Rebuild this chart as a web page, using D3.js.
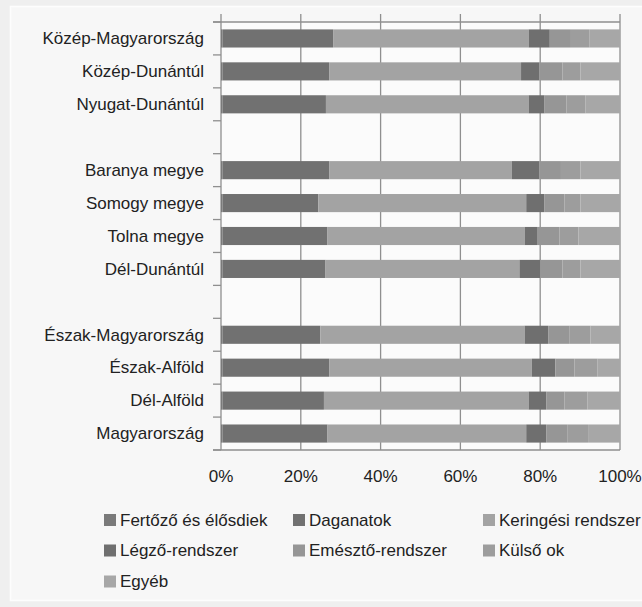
<!DOCTYPE html>
<html>
<head>
<meta charset="utf-8">
<script src="https://cdn.jsdelivr.net/npm/d3@7"></script>
<style>
  html, body { margin: 0; padding: 0; background: #efefef; }
  svg { display: block; }
  text { font-family: "Liberation Sans", Arial, sans-serif; fill: #222; }
</style>
</head>
<body>
<svg id="chart" width="642" height="607"></svg>
<script>
// Regions (empty strings are spacer rows between region groups)
const categories = [
  "Közép-Magyarország", "Közép-Dunántúl", "Nyugat-Dunántúl", "",
  "Baranya megye", "Somogy megye", "Tolna megye", "Dél-Dunántúl", "",
  "Észak-Magyarország", "Észak-Alföld", "Dél-Alföld", "Magyarország"
];

const seriesNames = [
  "Fertőző és élősdiek", "Daganatok", "Keringési rendszer",
  "Légző-rendszer", "Emésztő-rendszer", "Külső ok", "Egyéb"
];

// Share of deaths by cause, % (null = spacer row)
const fertozo   = [0.4, 0.4, 0.4, null, 0.4, 0.4, 0.4, 0.4, null, 0.4, 0.4, 0.4, 0.4];
const daganatok = [27.7, 26.7, 25.9, null, 26.7, 24.0, 26.3, 25.8, null, 24.5, 26.7, 25.4, 26.3];
const keringesi = [49.0, 48.1, 50.8, null, 45.8, 52.1, 49.4, 48.6, null, 51.2, 50.8, 51.3, 49.8];
const legzo     = [5.3, 4.6, 4.0, null, 6.9, 4.5, 3.1, 5.2, null, 5.9, 5.9, 4.4, 5.0];
const emeszto   = [5.3, 5.8, 5.5, null, 5.4, 5.1, 5.6, 5.6, null, 5.4, 4.8, 4.6, 5.4];
const kulso     = [4.7, 4.5, 4.7, null, 4.9, 4.0, 4.8, 4.5, null, 5.2, 5.7, 5.7, 5.1];
const egyeb     = [7.6, 9.9, 8.7, null, 9.9, 9.9, 10.4, 9.9, null, 7.4, 5.7, 8.2, 8.0];

const xTicks = [0, 0.2, 0.4, 0.6, 0.8, 1];

const colors = ["#7a7a7a", "#717171", "#a3a3a3", "#6f6f6f", "#969696", "#9d9d9d", "#a7a7a7"];

const seriesValues = [fertozo, daganatok, keringesi, legzo, emeszto, kulso, egyeb];
const rows = categories.map((c, i) => {
  const r = { idx: i, name: c };
  seriesNames.forEach((s, j) => { r[s] = seriesValues[j][i] == null ? 0 : seriesValues[j][i]; });
  return r;
});

const stacked = d3.stack()
  .keys(seriesNames)
  .offset(d3.stackOffsetExpand)(rows);

const svg = d3.select("#chart");

// chart area
svg.append("rect")
  .attr("x", 10.5).attr("y", 6.5).attr("width", 640).attr("height", 594)
  .attr("fill", "#f7f7f7").attr("stroke", "#fdfdfd").attr("stroke-width", 1.5);

const plotLeft = 221, plotRight = 620, plotTop = 22, plotBottom = 450;

const x = d3.scaleLinear().domain([0, 1]).range([plotLeft, plotRight]);
const y = d3.scaleBand()
  .domain(categories.map((c, i) => i))
  .range([plotTop, plotBottom])
  .paddingInner(0.45)
  .paddingOuter(0.225);

// plot background
svg.append("rect")
  .attr("x", plotLeft).attr("y", plotTop)
  .attr("width", plotRight - plotLeft).attr("height", plotBottom - plotTop)
  .attr("fill", "#fbfbfb");

// vertical gridlines
svg.append("g")
  .selectAll("line")
  .data(xTicks)
  .join("line")
  .attr("x1", d => x(d)).attr("x2", d => x(d))
  .attr("y1", plotTop - 8).attr("y2", plotBottom)
  .attr("stroke", "#8f8f8f").attr("stroke-width", 1.3);

// bars
svg.append("g")
  .selectAll("g")
  .data(stacked)
  .join("g")
  .attr("fill", (d, i) => colors[i])
  .selectAll("rect")
  .data(d => d.filter(p => categories[p.data.idx] !== ""))
  .join("rect")
  .attr("x", d => x(d[0]))
  .attr("width", d => Math.max(0, x(d[1]) - x(d[0])))
  .attr("y", d => y(d.data.idx))
  .attr("height", y.bandwidth());

// category axis: ticks between categories
const step = y.step();
const boundaries = d3.range(categories.length + 1).map(i => plotTop + i * step);
svg.append("g")
  .selectAll("line")
  .data(boundaries)
  .join("line")
  .attr("x1", plotLeft - 8).attr("x2", plotLeft)
  .attr("y1", d => d).attr("y2", d => d)
  .attr("stroke", "#8f8f8f").attr("stroke-width", 1.3);

// top and bottom frame lines
[plotTop, plotBottom].forEach(v => {
  svg.append("line")
    .attr("x1", plotLeft - 8).attr("x2", plotRight)
    .attr("y1", v).attr("y2", v)
    .attr("stroke", "#8f8f8f").attr("stroke-width", 1.3);
});

// category labels
svg.append("g")
  .selectAll("text")
  .data(categories.map((c, i) => ({ c, i })).filter(d => d.c !== ""))
  .join("text")
  .attr("x", 204)
  .attr("y", d => y(d.i) + y.bandwidth() / 2)
  .attr("dy", "0.34em")
  .attr("text-anchor", "end")
  .attr("font-size", 17)
  .text(d => d.c);

// value axis labels
const fmt = d3.format(".0%");
svg.append("g")
  .selectAll("text")
  .data(xTicks)
  .join("text")
  .attr("x", d => x(d))
  .attr("y", 482)
  .attr("text-anchor", "middle")
  .attr("font-size", 17)
  .text(d => fmt(d));

// legend
const legendCols = [104, 293, 483];
const legendRows = [520, 550.5, 581.5];
const legend = svg.append("g")
  .selectAll("g")
  .data(seriesNames)
  .join("g")
  .attr("transform", (d, i) => `translate(${legendCols[i % 3]},${legendRows[Math.floor(i / 3)]})`);
legend.append("rect")
  .attr("x", 0).attr("y", -6).attr("width", 12).attr("height", 12)
  .attr("fill", (d, i) => colors[i]);
legend.append("text")
  .attr("x", 16).attr("y", 0).attr("dy", "0.35em")
  .attr("font-size", 17)
  .text(d => d);
</script>
</body>
</html>
